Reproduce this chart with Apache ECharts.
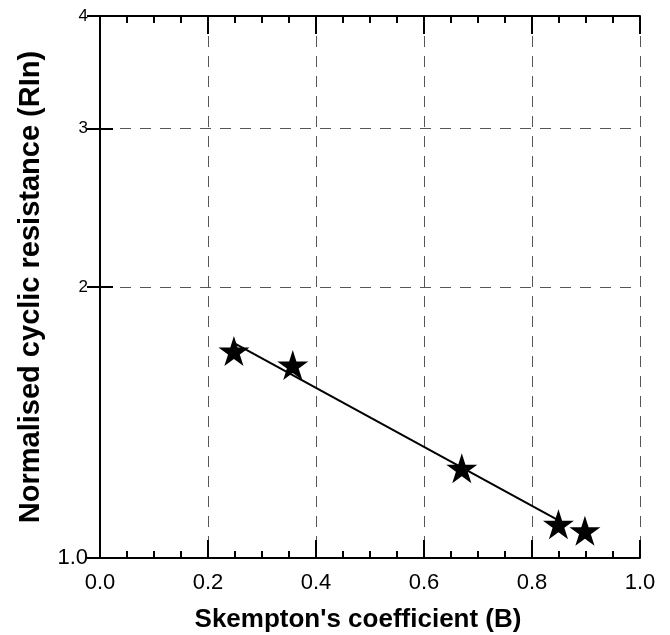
<!DOCTYPE html>
<html>
<head>
<meta charset="utf-8">
<script src="https://cdn.jsdelivr.net/npm/echarts@6/dist/echarts.min.js"></script>
<style>
  html, body { margin: 0; padding: 0; background: #fff; }
  #chart { width: 670px; height: 635px; }
</style>
</head>
<body>
<div id="chart"></div>
<script>
// measured points
var bValues = [0.248, 0.357, 0.67, 0.849, 0.898];
var rlnValues = [1.698, 1.638, 1.258, 1.09, 1.072];

// fitted line end points
var fitB = [0.25, 0.85];
var fitRln = [1.73, 1.10];

var yTicks = [1, 2, 3, 4];
var xTitle = "Skempton's coefficient (B)";
var yTitle = "Normalised cyclic resistance (RIn)";

var starPath =
  "path://M50 0 L61.17 34.63 L97.55 34.55 L68.07 55.87 L79.39 90.45 L50 69 " +
  "L20.61 90.45 L31.93 55.87 L2.45 34.55 L38.83 34.63 Z";

var points = [];
for (let i = 0; i < bValues.length; i++) {
  points.push([bValues[i], rlnValues[i]]);
}
var fitLine = [];
for (let i = 0; i < fitB.length; i++) {
  fitLine.push([fitB[i], fitRln[i]]);
}

var font = "Liberation Sans, Arial, sans-serif";
var gridLine = {
  show: true,
  lineStyle: { color: "#555", type: [11, 9], width: 1 },
};

var myChart = echarts.init(document.getElementById("chart"));
myChart.setOption({
  animation: false,
  backgroundColor: "#fff",
  grid: { left: 100, right: 30, top: 16, bottom: 77, outerBoundsMode: "none" },
  xAxis: [
    {
      type: "value",
      min: 0,
      max: 1,
      interval: 0.2,
      name: xTitle,
      nameLocation: "middle",
      nameGap: 49,
      nameTextStyle: {
        fontFamily: font,
        fontSize: 26,
        fontWeight: "bold",
        color: "#000",
        padding: [0, 24, 0, 0],
      },
      axisLine: { lineStyle: { color: "#000", width: 2 } },
      axisTick: { inside: true, length: 18, lineStyle: { color: "#000", width: 2 } },
      minorTick: { show: true, splitNumber: 4, length: 7, lineStyle: { color: "#000", width: 2 } },
      axisLabel: {
        margin: 14,
        fontFamily: font,
        fontSize: 22,
        color: "#000",
        formatter: function (v) {
          return v.toFixed(1);
        },
      },
      splitLine: gridLine,
    },
    {
      type: "value",
      position: "top",
      min: 0,
      max: 1,
      interval: 0.2,
      axisLine: { lineStyle: { color: "#000", width: 2 } },
      axisTick: { inside: true, length: 18, lineStyle: { color: "#000", width: 2 } },
      minorTick: { show: true, splitNumber: 4, length: 7, lineStyle: { color: "#000", width: 2 } },
      axisLabel: { show: false },
      splitLine: { show: false },
    },
  ],
  yAxis: [
    {
      type: "log",
      min: 1,
      max: 4,
      name: yTitle,
      nameLocation: "middle",
      nameGap: 55,
      nameTextStyle: { fontFamily: font, fontSize: 29, fontWeight: "bold", color: "#000" },
      axisLine: { lineStyle: { color: "#000", width: 2 } },
      axisTick: { inside: true, length: 13, customValues: yTicks, lineStyle: { color: "#000", width: 2 } },
      axisLabel: {
        margin: 12,
        customValues: yTicks,
        fontFamily: font,
        color: "#000",
        formatter: function (v) {
          return v === 1 ? "{big|1.0}" : "{small|" + v + "}";
        },
        rich: {
          big: { fontFamily: font, fontSize: 22, color: "#000" },
          small: { fontFamily: font, fontSize: 17, color: "#000" },
        },
      },
      splitLine: gridLine,
    },
    {
      type: "log",
      position: "right",
      min: 1,
      max: 4,
      axisLine: { lineStyle: { color: "#000", width: 2 } },
      axisTick: { inside: true, length: 13, customValues: yTicks, lineStyle: { color: "#000", width: 2 } },
      axisLabel: { show: false },
      splitLine: { show: false },
    },
  ],
  series: [
    {
      name: "fit",
      type: "line",
      data: fitLine,
      symbol: "none",
      lineStyle: { color: "#000", width: 2 },
      z: 2,
    },
    {
      name: "B",
      type: "scatter",
      data: points,
      symbol: starPath,
      symbolSize: [31, 30],
      itemStyle: { color: "#000", opacity: 1 },
      z: 3,
    },
  ],
});
</script>
</body>
</html>
